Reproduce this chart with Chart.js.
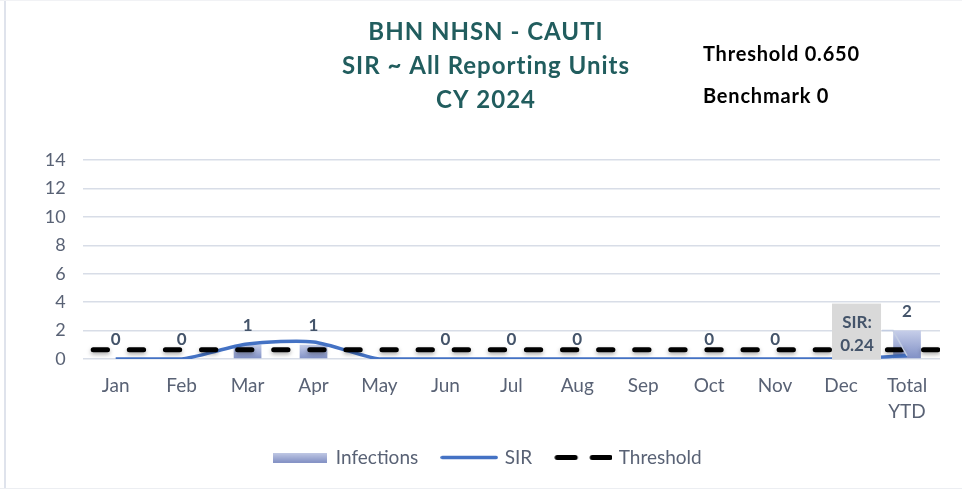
<!DOCTYPE html>
<html lang="en">
<head>
    <meta charset="UTF-8" />
    <title>BHN NHSN - CAUTI SIR</title>
    <style>
        * { margin: 0; padding: 0; box-sizing: border-box; }
        body { width: 962px; height: 489px; background: #fff; overflow: hidden; position: relative; }
        .frame-left { position: absolute; left: 4px; top: 0; width: 2px; height: 489px; background: #dfe3ec; }
        .frame-top { position: absolute; left: 0; top: 0; width: 962px; height: 1px; background: #f1f2f5; }
        .frame-bottom { position: absolute; left: 0; top: 488px; width: 962px; height: 1px; background: #eceef2; }
        canvas { position: absolute; left: 0; top: 0; }
    </style>
</head>
<body>
    <div class="frame-left"></div>
    <div class="frame-top"></div>
    <div class="frame-bottom"></div>
    <canvas id="cautiChart" width="962" height="489"></canvas>
    <script src="https://cdn.jsdelivr.net/npm/chart.js"></script>
    <script>
        // data
        const categories = ['Jan', 'Feb', 'Mar', 'Apr', 'May', 'Jun', 'Jul', 'Aug', 'Sep', 'Oct', 'Nov', 'Dec', ['Total', 'YTD']];
        const infections = [0, 0, 1, 1, null, 0, 0, 0, null, 0, 0, 0, 2];
        const sirValues = [0, 0, 1.05, 1.2, 0, 0, 0, 0, 0, 0, 0, 0, 0.24];
        const thresholdValue = 0.65;
        const benchmarkValue = 0;
        const yMax = 14;
        const yStep = 2;
        const titleLines = ['BHN NHSN - CAUTI', 'SIR ~ All Reporting Units', 'CY 2024'];

        const FONT = 'Lato, "Open Sans", sans-serif';
        const tickColor = '#596275';
        const labelColor = '#44546A';

        // one x axis only (linear, one unit per category) so the bars stay centred
        const toPoints = arr => arr.map((v, i) => ({ x: i, y: v }));
        const xMin = -0.5;
        const xMax = categories.length - 0.5;

        // legend icons
        function makeIcon(w, h, draw) {
            const c = document.createElement('canvas');
            c.width = w; c.height = h;
            draw(c.getContext('2d'), w, h);
            return c;
        }
        const infIcon = makeIcon(54, 10, (g, w, h) => {
            const gr = g.createLinearGradient(0, 0, 0, h);
            gr.addColorStop(0, '#c3cbe6');
            gr.addColorStop(1, '#8391c4');
            g.fillStyle = gr;
            g.fillRect(0, 0, w, h);
        });
        const sirIcon = makeIcon(58, 5, (g, w, h) => {
            g.strokeStyle = '#4472C4'; g.lineWidth = 3.5; g.lineCap = 'round';
            g.beginPath(); g.moveTo(2, h / 2); g.lineTo(w - 2, h / 2); g.stroke();
        });
        const thrIcon = makeIcon(58, 7, (g, w, h) => {
            g.strokeStyle = '#000'; g.lineWidth = 5; g.lineCap = 'round';
            g.beginPath();
            g.moveTo(3, h / 2); g.lineTo(21, h / 2);
            g.moveTo(38, h / 2); g.lineTo(56, h / 2);
            g.stroke();
        });
        const legendIcons = [infIcon, sirIcon, thrIcon];

        function barGradient(ctx) {
            const chart = ctx.chart;
            const y = chart.scales && chart.scales.y;
            const v = ctx.raw && ctx.raw.y;
            if (!chart.chartArea || !y || v == null) return '#a3afd8';
            const top = y.getPixelForValue(v);
            const bottom = y.getPixelForValue(0);
            const gr = chart.ctx.createLinearGradient(0, top, 0, bottom + 0.01);
            gr.addColorStop(0, '#c6cee9');
            gr.addColorStop(1, '#7f8fc5');
            return gr;
        }

        // title, threshold notes, bar values and the SIR call-out
        const decorPlugin = {
            id: 'decor',
            beforeDatasetDraw(chart, args) {
                if (args.index === 2) {
                    const c = chart.ctx;
                    c.save();
                    c.shadowColor = 'rgba(0,0,0,0.35)';
                    c.shadowBlur = 4;
                    c.shadowOffsetY = 2;
                }
            },
            afterDatasetDraw(chart, args) {
                if (args.index === 2) chart.ctx.restore();
            },
            afterDraw(chart) {
                const c = chart.ctx;
                c.save();
                // title
                c.fillStyle = '#215D5E';
                c.font = 'bold 24px ' + FONT;
                c.letterSpacing = '1px';
                c.textAlign = 'center';
                c.textBaseline = 'middle';
                titleLines.forEach((t, i) => c.fillText(t, 486, 32 + i * 34));

                // threshold / benchmark notes
                c.fillStyle = '#000';
                c.font = 'bold 20px ' + FONT;
                c.letterSpacing = '0.8px';
                c.textAlign = 'left';
                c.fillText('Threshold ' + thresholdValue.toFixed(3), 703, 55);
                c.fillText('Benchmark ' + benchmarkValue, 703, 97);
                c.letterSpacing = '0px';

                // infection values
                const barMeta = chart.getDatasetMeta(0);
                c.fillStyle = labelColor;
                c.font = 'bold 17px ' + FONT;
                c.textAlign = 'center';
                barMeta.data.forEach((bar, i) => {
                    if (infections[i] == null) return;
                    c.fillText(String(infections[i]), bar.x, bar.y - 19);
                });

                // SIR call-out on the YTD point
                const lineMeta = chart.getDatasetMeta(1);
                const last = sirValues.length - 1;
                const p = lineMeta.data[last];
                c.strokeStyle = '#c3cde2';
                c.lineWidth = 1.5;
                c.beginPath();
                c.moveTo(p.x - 25, p.y - 25);
                c.lineTo(p.x - 14, p.y - 25);
                c.lineTo(p.x, p.y);
                c.stroke();
                c.fillStyle = '#d9d9d9';
                c.fillRect(p.x - 75, p.y - 52, 49, 56);
                c.fillStyle = labelColor;
                c.font = 'bold 17px ' + FONT;
                c.fillText('SIR:', p.x - 50, p.y - 33);
                c.fillText(sirValues[last].toFixed(2), p.x - 50, p.y - 10);
                c.restore();
            }
        };

        const ctx = document.getElementById('cautiChart').getContext('2d');
        new Chart(ctx, {
            data: {
                datasets: [
                    {
                        type: 'bar',
                        label: 'Infections',
                        data: toPoints(infections),
                        backgroundColor: barGradient,
                        barPercentage: 0.42,
                        categoryPercentage: 1,
                        order: 3
                    },
                    {
                        type: 'line',
                        label: 'SIR',
                        data: toPoints(sirValues),
                        borderColor: '#4472C4',
                        borderWidth: 3.5,
                        pointRadius: 0,
                        tension: 0.25,
                        order: 2
                    },
                    {
                        type: 'line',
                        label: 'Threshold',
                        data: [
                            { x: xMin, y: thresholdValue },
                            { x: xMax, y: thresholdValue }
                        ],
                        borderColor: '#000',
                        borderWidth: 5,
                        borderDash: [14.3, 21.8],
                        borderDashOffset: 25.6,
                        borderCapStyle: 'round',
                        pointRadius: 0,
                        order: 1
                    }
                ]
            },
            options: {
                responsive: false,
                animation: false,
                layout: { padding: { left: 36, right: 22, top: 160, bottom: 12 } },
                scales: {
                    x: {
                        type: 'linear',
                        min: xMin,
                        max: xMax,
                        offset: false,
                        bounds: 'data',
                        grid: { display: false, drawTicks: false, offset: false },
                        border: { display: false },
                        afterBuildTicks(scale) {
                            scale.ticks = categories.map((c, i) => ({ value: i }));
                        },
                        ticks: {
                            stepSize: 1,
                            callback: (v, i) => categories[i],
                            color: tickColor,
                            font: { family: FONT, size: 19, lineHeight: 1.35 },
                            padding: 14,
                            maxRotation: 0,
                            autoSkip: false
                        },
                        afterFit(scale) { scale.height = 64; }
                    },
                    y: {
                        min: 0,
                        max: yMax,
                        ticks: {
                            stepSize: yStep,
                            color: tickColor,
                            font: { family: FONT, size: 18 },
                            padding: 17
                        },
                        grid: { color: '#d8dde7', lineWidth: 1.5, drawTicks: false },
                        border: { display: false },
                        afterFit(scale) { scale.width = 46.7; }
                    }
                },
                plugins: {
                    title: { display: false },
                    tooltip: { enabled: false },
                    legend: {
                        position: 'bottom',
                        labels: {
                            usePointStyle: true,
                            pointStyleWidth: 52,
                            color: tickColor,
                            font: { family: FONT, size: 19 },
                            padding: 25,
                            generateLabels(chart) {
                                return chart.data.datasets.map((ds, i) => ({
                                    text: ds.label,
                                    pointStyle: legendIcons[i],
                                    fillStyle: 'transparent',
                                    strokeStyle: 'transparent',
                                    lineWidth: 0,
                                    fontColor: tickColor,
                                    hidden: false,
                                    datasetIndex: i
                                }));
                            }
                        }
                    }
                }
            },
            plugins: [decorPlugin]
        });
    </script>
</body>
</html>
